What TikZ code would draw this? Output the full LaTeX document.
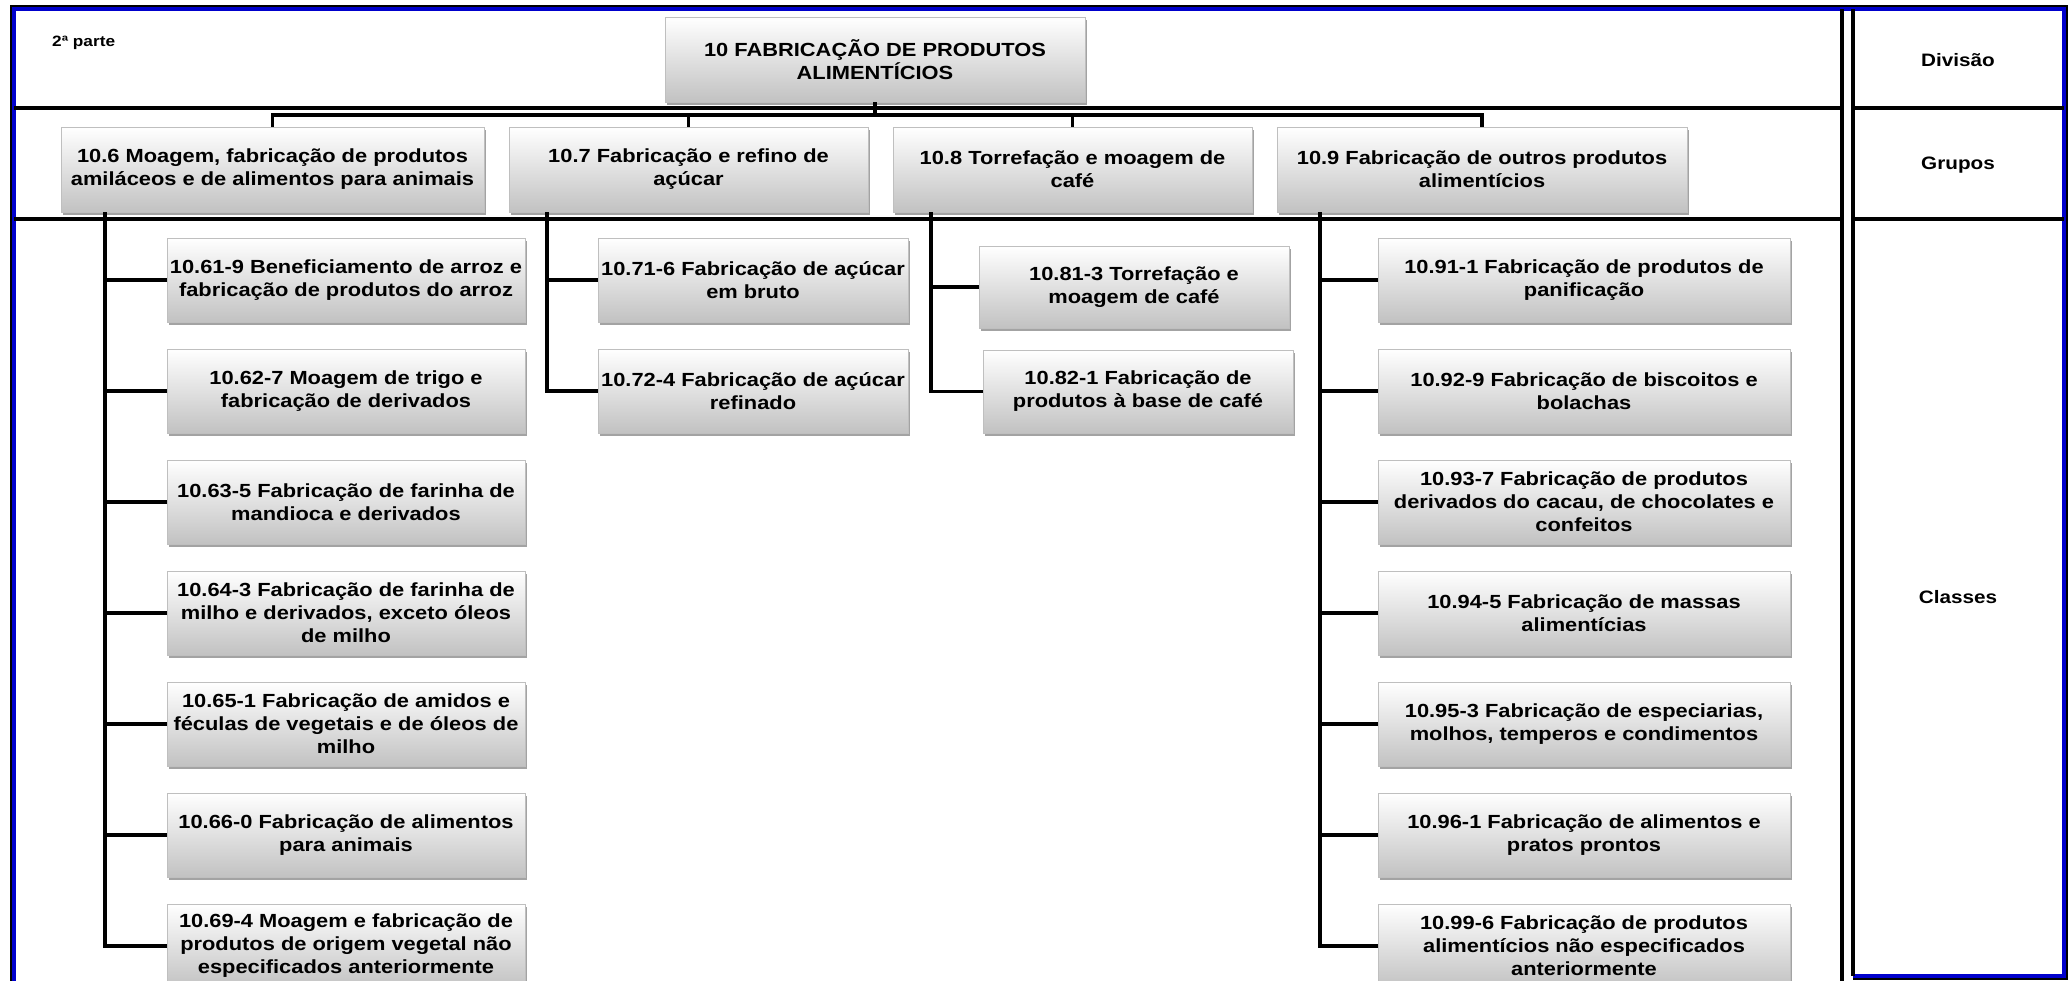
\documentclass[tikz,border=0pt]{standalone}
\usepackage{fontspec}
\setmainfont{Liberation Sans}[FakeStretch=1.15]
\usetikzlibrary{shadows}
\definecolor{frameblue}{RGB}{0,0,204}
\tikzset{
  cbox/.style={draw=black!25, line width=0.6pt, top color=white, bottom color=black!24,
    drop shadow={shadow xshift=1.8pt, shadow yshift=-3pt, fill=black!60, opacity=0.6},
    align=center, inner sep=0pt, font=\bfseries\fontsize{19}{23}\selectfont, minimum height=84pt},
  conn/.style={line width=3.6pt, black},
  rulel/.style={line width=3.6pt, black},
  lbl/.style={font=\bfseries\fontsize{18}{22}\selectfont, inner sep=0pt},
}
\begin{document}
\begin{tikzpicture}[x=1pt, y=-1pt]
\useasboundingbox (0,0) rectangle (2071,980);
\fill[white] (0,0) rectangle (2071,980);
% frame
\draw[line width=1.5pt, black] (11,985) -- (11,6) -- (2067,6) -- (2067,979) -- (1853,979);
\draw[line width=4pt, frameblue] (14,985) -- (14,9) -- (2064,9) -- (2064,976) -- (1853,976);
\draw[rulel] (1842,9) -- (1842,985);
\draw[rulel] (1853,9) -- (1853,976);
\draw[rulel] (14,108) -- (1842,108);
\draw[rulel] (14,219) -- (1842,219);
\draw[rulel] (1853,108) -- (2064,108);
\draw[rulel] (1853,219) -- (2064,219);
% labels
\node[lbl, font=\bfseries\fontsize{15}{18}\selectfont, anchor=west] (parte) at (52,43) {2ª parte};
\node[lbl] (ldiv) at (1958,60) {Divisão};
\node[lbl] (lgru) at (1958,165) {Grupos};
\node[lbl] (lcla) at (1958,597) {Classes};
% division
\node[cbox, minimum width=420pt, minimum height=85pt] (top) at (875,59.5) {10 FABRICAÇÃO  DE PRODUTOS\\ALIMENTÍCIOS};
% groups
\node[cbox, minimum width=423pt, minimum height=85pt] (g6) at (272.5,169.5) {10.6 Moagem, fabricação de produtos\\amiláceos e de alimentos para animais};
\node[cbox, minimum width=359pt, minimum height=85pt] (g7) at (688.5,169.5) {10.7 Fabricação e refino de\\açúcar};
\node[cbox, minimum width=359pt, minimum height=85pt] (g8) at (1072.5,169.5) {10.8 Torrefação e moagem de\\café};
\node[cbox, minimum width=410pt, minimum height=85pt] (g9) at (1482,169.5) {10.9 Fabricação de outros produtos\\alimentícios};
% classes 10.6
\node[cbox, minimum width=358pt] (c61) at (346,280) {10.61-9 Beneficiamento de arroz e\\fabricação de produtos do arroz};
\node[cbox, minimum width=358pt] (c62) at (346,391) {10.62-7 Moagem de trigo e\\fabricação de derivados};
\node[cbox, minimum width=358pt] (c63) at (346,502) {10.63-5 Fabricação de farinha de\\mandioca e derivados};
\node[cbox, minimum width=358pt] (c64) at (346,613) {10.64-3 Fabricação de farinha de\\milho e derivados, exceto óleos\\de milho};
\node[cbox, minimum width=358pt] (c65) at (346,724) {10.65-1 Fabricação de amidos e\\féculas de vegetais e de óleos de\\milho};
\node[cbox, minimum width=358pt] (c66) at (346,835) {10.66-0 Fabricação de alimentos\\para animais};
\node[cbox, minimum width=358pt] (c69) at (346,946) {10.69-4 Moagem e fabricação de\\produtos de origem vegetal não\\especificados anteriormente};
% classes 10.7
\node[cbox, minimum width=310pt] (c71) at (753,280) {10.71-6 Fabricação de açúcar\\em bruto};
\node[cbox, minimum width=310pt] (c72) at (753,391) {10.72-4 Fabricação de açúcar\\refinado};
% classes 10.8
\node[cbox, minimum width=310pt, minimum height=82pt] (c81) at (1134,287) {10.81-3 Torrefação e\\moagem de café};
\node[cbox, minimum width=310pt, minimum height=83pt] (c82) at (1138,391.5) {10.82-1 Fabricação de\\produtos à base de café};
% classes 10.9
\node[cbox, minimum width=412pt] (c91) at (1584,280) {10.91-1 Fabricação de produtos de\\panificação};
\node[cbox, minimum width=412pt] (c92) at (1584,391) {10.92-9 Fabricação de biscoitos e\\bolachas};
\node[cbox, minimum width=412pt] (c93) at (1584,502) {10.93-7 Fabricação de produtos\\derivados do cacau, de chocolates e\\confeitos};
\node[cbox, minimum width=412pt] (c94) at (1584,613) {10.94-5 Fabricação de massas\\alimentícias};
\node[cbox, minimum width=412pt] (c95) at (1584,724) {10.95-3 Fabricação de especiarias,\\molhos, temperos e condimentos};
\node[cbox, minimum width=412pt] (c96) at (1584,835) {10.96-1 Fabricação de alimentos e\\pratos prontos};
\node[cbox, minimum width=412pt] (c99) at (1584,946) {10.99-6 Fabricação de produtos\\alimentícios não especificados\\anteriormente};
% connectors: division to groups
\coordinate (bus) at (0,115);
\draw[conn] (top.south) -- (top.south |- bus);
\draw[conn] (g6.north) -- (g6.north |- bus) -- (g9.north |- bus) -- (g9.north);
\draw[conn] (g7.north) -- (g7.north |- bus);
\draw[conn] (g8.north) -- (g8.north |- bus);
% connectors: groups to classes
\coordinate (s6) at ([xshift=44pt]g6.south west);
\coordinate (s7) at ([xshift=38pt]g7.south west);
\coordinate (s8) at ([xshift=38pt]g8.south west);
\coordinate (s9) at ([xshift=43pt]g9.south west);
\foreach \c in {c61,c62,c63,c64,c65,c66,c69} \draw[conn] (s6) |- (\c.west);
\foreach \c in {c71,c72} \draw[conn] (s7) |- (\c.west);
\foreach \c in {c81,c82} \draw[conn] (s8) |- (\c.west);
\foreach \c in {c91,c92,c93,c94,c95,c96,c99} \draw[conn] (s9) |- (\c.west);
\end{tikzpicture}
\end{document}
